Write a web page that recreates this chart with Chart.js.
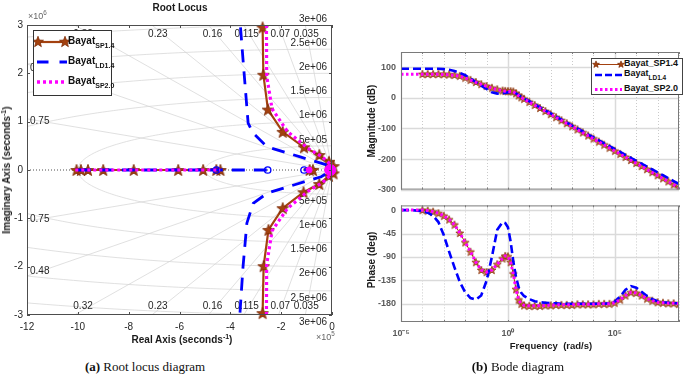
<!DOCTYPE html>
<html><head><meta charset="utf-8">
<script src="https://cdn.jsdelivr.net/npm/chart.js@4.4.1/dist/chart.umd.min.js"></script>
<style>
html,body{margin:0;padding:0;background:#fff;}
body{width:685px;height:376px;position:relative;overflow:hidden;font-family:"Liberation Sans",Arial,Helvetica,sans-serif;}
canvas{position:absolute;}
.t{position:absolute;white-space:nowrap;line-height:1;color:#1a1a1a;}
.c{transform:translate(-50%,-50%);}
.rot{transform:translate(-50%,-50%) rotate(-90deg);}
.b{font-weight:bold;}
sup{font-size:70%;vertical-align:super;line-height:0;}
sub{font-size:72%;vertical-align:sub;line-height:0;}
.leg{position:absolute;background:#fff;box-sizing:border-box;}
.cap{font-family:"Liberation Serif","DejaVu Serif",serif;font-size:13px;color:#111;}
</style></head><body>
<canvas id="rl" width="345" height="345" style="left:0;top:0;width:345px;height:345px"></canvas>
<canvas id="mag" width="340" height="170" style="left:345px;top:30px;width:340px;height:170px"></canvas>
<canvas id="ph" width="340" height="150" style="left:345px;top:195px;width:340px;height:150px"></canvas>

<div class="t c b" style="left:180px;top:8px;font-size:10px">Root Locus</div>
<div class="t" style="left:28px;top:12px;font-size:9px;color:#666">×10<sup>6</sup></div>
<div class="t rot b" style="left:7px;top:170px;font-size:10px">Imaginary Axis (seconds<sup>-1</sup>)</div>
<div class="t c b" style="left:182px;top:340px;font-size:10px">Real Axis (seconds<sup>-1</sup>)</div>
<div class="t" style="left:316px;top:333px;font-size:9px;color:#666">×10<sup>5</sup></div>
<div class="t rot b" style="left:372px;top:121px;font-size:10px">Magnitude (dB)</div>
<div class="t rot b" style="left:372px;top:260px;font-size:10px">Phase (deg)</div>
<div class="t c b" style="left:551px;top:346px;font-size:9.5px">Frequency&nbsp; (rad/s)</div>
<div class="t c cap" style="left:145px;top:366px"><b>(a)</b> Root locus diagram</div>
<div class="t c cap" style="left:518px;top:366px"><b>(b)</b> Bode diagram</div>

<div id="leg1" class="leg" style="left:33px;top:30px;width:79px;height:66px;border:1.5px solid #333"></div>
<div id="leg2" class="leg" style="left:591px;top:58px;width:92px;height:37px;border:1px solid #444"></div>

<script>
// ---------------- DATA ----------------
// Root locus (real axis in units of 1e5, imaginary axis in units of 1e6)
const rlXTicks = [-12, -10, -8, -6, -4, -2, 0];
const rlYTicks = [-3, -2, -1, 0, 1, 2, 3];
const zetaValues = [0.035, 0.07, 0.115, 0.16, 0.23, 0.32, 0.48, 0.75];
const zetaLabels = ['0.035', '0.07', '0.115', '0.16', '0.23', '0.32', '0.48', '0.75'];
const wnValues = [5e5, 1e6, 1.5e6, 2e6, 2.5e6, 3e6];
const wnLabels = ['5e+05', '1e+06', '1.5e+06', '2e+06', '2.5e+06', '3e+06'];

const sp14UpperRe = [-2.73, -2.70, -2.52, -1.94, -1.10, -0.50, -0.12, 0.06, 0.12];
const sp14UpperIm = [2.95, 1.97, 1.25, 0.79, 0.47, 0.31, 0.17, 0.08, 0];
const sp14LowerRe = [-2.73, -2.69, -2.50, -1.94, -1.12, -0.50, -0.12, 0.06, 0.12];
const sp14LowerIm = [-2.96, -1.99, -1.24, -0.79, -0.46, -0.29, -0.12, -0.07, 0];
const sp14RealRe = [-10.05, -9.88, -9.6, -9.0, -7.8, -6.05, -5.07, -4.55, -4.39];
const sp14NearRe = [-0.88, -0.75];

const ld14UpperRe = [-3.60, -3.50, -3.30, -3.10, -2.55, -1.25, -0.18, 0];
const ld14UpperIm = [2.95, 2.28, 0.97, 0.76, 0.48, 0.27, 0.10, 0];
const ld14LowerRe = [-3.62, -3.50, -3.35, -3.10, -2.55, -1.50, -0.43, 0];
const ld14LowerIm = [-2.95, -2.00, -1.10, -0.69, -0.48, -0.31, -0.14, 0];
const ld14RealRe = [-10.0, -2.53];
const ld14ShortRe = [-1.1, -0.9];
const ld14ZeroRe = [-4.55, -2.53, -1.1];

const sp20UpperRe = [-2.58, -2.57, -2.36, -1.76, -0.95, -0.38, -0.05, 0];
const sp20UpperIm = [3.0, 1.95, 1.27, 0.80, 0.45, 0.27, 0.11, 0];
const sp20LowerRe = [-2.58, -2.57, -2.36, -1.76, -0.95, -0.38, -0.05, 0];
const sp20LowerIm = [-3.0, -1.96, -1.26, -0.80, -0.44, -0.26, -0.10, 0];
const sp20RealRe = [-10.1, -4.4];
const sp20DotRe = [-0.9];
const sp20BigDotRe = [-0.07];

// Bode (log10 of frequency in rad/s)
const logW = [-5,-4.75,-4.5,-4.25,-4,-3.75,-3.5,-3.25,-3,-2.75,-2.5,-2.25,-2,-1.75,-1.5,-1.25,-1,-0.75,-0.5,-0.25,
  -0.125,0,0.125,0.25,0.375,0.5,0.625,0.75,
  1,1.25,1.5,1.75,2,2.25,2.5,2.75,3,3.25,3.5,3.75,4,4.25,4.5,4.75,5,5.25,5.5,5.75,6,6.25,6.5,6.75,7,7.25,7.5,7.75,8];
const bodeDecades = [-5,-4,-3,-2,-1,0,1,2,3,4,5,6,7,8];
const bodeMajorDecades = [-5, 0, 5];
const bodeTickLabels = ['10⁻⁵', '10⁰', '10⁵'];
const magTicks = [100, 0, -100, -200, -300];
const phaseTicks = [0, -45, -90, -135, -180];

const magSP14 = [null,null,null,null,78,78,78,78,77.5,76.5,75,72,66,59,52,45,39,33,28,24,
  23,22,22,21,15,8,2,-3,
  -13,-23,-33,-43,-53,-63,-73,-83,-93,-103,-113,-123,-133,-143,-153,-163,-173,-183,-193,-203,-213,-223,-233,-243,-253,-263,-273,-283,-292];
const magLD14 = [95,95,95,95,95,95,95,95,94,92,88,82,74,63,52,40,29,18,14,15,
  16,18,20,20,15,9,3,-2,
  -11,-21,-31,-41,-51,-61,-71,-81,-91,-100,-110,-120,-129,-139,-149,-158,-168,-177,-187,-196,-206,-215,-225,-234,-244,-253,-263,-272,-282];
const magSP20 = [77,77,77,77,77,77,77,77,76.5,75.5,74,71,65,58,51,44,38,32,27,23,
  22,21,21,20,14,7,1,-4,
  -14,-24,-34,-44,-54,-64,-74,-84,-94,-104,-114,-124,-134,-144,-154,-164,-174,-184,-194,-204,-214,-224,-234,-244,-254,-264,-274,-284,-293];

const phSP14 = [null,null,null,null,0,-1,-3,-6,-11,-18,-28,-44,-62,-80,-100,-115,-119,-115,-104,-93,
  -88,-89,-100,-122,-152,-172,-180,-183,
  -184,-184,-184,-183,-183,-182,-182,-182,-182,-181,-181,-181,-181,-180,-180,-180,-178,-172,-164,-158,-159,-164,-170,-174,-177,-178,-179,-179,-180];
const phLD14 = [0,0,0,-1,-2,-5,-11,-23,-48,-80,-110,-138,-158,-169,-172,-164,-136,-90,-38,-23,
  -25,-33,-60,-98,-128,-148,-159,-165,
  -171,-175,-177,-178,-179,-179,-180,-180,-180,-180,-180,-180,-180,-180,-180,-179,-176,-166,-153,-146,-149,-157,-165,-171,-175,-177,-178,-179,-179];
const phSP20 = [0,0,0,0,0,-1,-3,-6,-11,-18,-28,-44,-62,-80,-100,-115,-119,-115,-104,-93,
  -88,-89,-100,-122,-152,-172,-180,-183,
  -184,-184,-184,-183,-183,-182,-182,-182,-182,-181,-181,-181,-181,-180,-180,-180,-178,-172,-164,-158,-159,-164,-170,-174,-177,-178,-179,-179,-180];

// ---------------- STYLE ----------------
const F = '"Liberation Sans", Arial, Helvetica, sans-serif';
const BROWN = '#a3410f', BROWN_DARK = '#7a2a05', BLUE = '#0000ff', MAGENTA = '#ff00ff';

function starCanvas(size, fill, stroke, lw) {
  const c = document.createElement('canvas'); c.width = c.height = size;
  const g = c.getContext('2d'); const cx = size / 2, cy = size / 2 + size * 0.04, R = size / 2 - lw, r = R * 0.42;
  g.beginPath();
  for (let i = 0; i < 10; i++) { const a = -Math.PI / 2 + i * Math.PI / 5; const rr = i % 2 ? r : R; g.lineTo(cx + rr * Math.cos(a), cy + rr * Math.sin(a)); }
  g.closePath(); g.fillStyle = fill; g.fill(); g.lineWidth = lw; g.strokeStyle = stroke; g.stroke();
  return c;
}
const bigStar = starCanvas(14, BROWN, BROWN_DARK, 0.8);
const smallStar = starCanvas(10, '#c9743f', '#8a3510', 0.8);

function pts(xs, ys) { return xs.map((x, i) => ({ x: x, y: ys[i] })); }
function axisPts(xs) { return xs.map(x => ({ x: x, y: 0 })); }

// ---------------- ROOT LOCUS ----------------
const rlPlugin = {
  id: 'rlgrid',
  beforeDatasetsDraw(chart) {
    const { ctx, chartArea: a, scales: { x, y } } = chart;
    ctx.save();
    ctx.beginPath(); ctx.rect(a.left, a.top, a.right - a.left, a.bottom - a.top); ctx.clip();
    ctx.strokeStyle = '#d2d2d2'; ctx.lineWidth = 0.7;
    const x0 = x.getPixelForValue(0), y0 = y.getPixelForValue(0);
    zetaValues.forEach(z => {
      const far = 1e7, xr = -z * far / 1e5, yi = Math.sqrt(1 - z * z) * far / 1e6;
      [1, -1].forEach(s => { ctx.beginPath(); ctx.moveTo(x0, y0); ctx.lineTo(x.getPixelForValue(xr), y.getPixelForValue(s * yi)); ctx.stroke(); });
    });
    wnValues.forEach(w => {
      ctx.beginPath();
      for (let k = 0; k <= 180; k++) {
        const p = k * Math.PI / 180, px = x.getPixelForValue(-w * Math.sin(p) / 1e5), py = y.getPixelForValue(w * Math.cos(p) / 1e6);
        if (k) ctx.lineTo(px, py); else ctx.moveTo(px, py);
      }
      ctx.stroke();
    });
    ctx.setLineDash([1, 2]); ctx.strokeStyle = '#222'; ctx.lineWidth = 0.8;
    ctx.beginPath(); ctx.moveTo(a.left, y0); ctx.lineTo(a.right, y0); ctx.stroke();
    ctx.restore();
    // labels
    ctx.save();
    ctx.font = '10px ' + F; ctx.fillStyle = '#262626'; ctx.textBaseline = 'middle';
    ctx.textAlign = 'center';
    zetaValues.forEach((z, i) => {
      const k = Math.sqrt(1 - z * z) / z;
      if (z <= 0.33) {
        const xr = -29 * z / Math.sqrt(1 - z * z);
        ctx.fillText(zetaLabels[i], x.getPixelForValue(xr), y.getPixelForValue(2.81));
        ctx.fillText(zetaLabels[i], x.getPixelForValue(xr), y.getPixelForValue(-2.82));
      } else {
        const yi = 1.15 * k;
        ctx.fillText(zetaLabels[i], x.getPixelForValue(-11.5), y.getPixelForValue(yi));
        ctx.fillText(zetaLabels[i], x.getPixelForValue(-11.5), y.getPixelForValue(-yi));
      }
    });
    ctx.textAlign = 'right';
    const xr = x.getPixelForValue(0) - 5;
    wnValues.forEach((w, i) => {
      ctx.fillText(wnLabels[i], xr, y.getPixelForValue(w / 1e6) - 6);
      ctx.fillText(wnLabels[i], xr, y.getPixelForValue(-w / 1e6) + 7);
    });
    ctx.restore();
  },
  afterDatasetsDraw(chart) {
    const { ctx, chartArea: a, scales: { x, y } } = chart;
    ctx.save();
    ctx.strokeStyle = '#4d4d4d'; ctx.lineWidth = 1;
    ctx.strokeRect(a.left + 0.5, a.top + 0.5, a.right - a.left - 1, a.bottom - a.top - 1);
    ctx.beginPath();
    rlXTicks.forEach(v => { const p = Math.round(x.getPixelForValue(v)) + 0.5; ctx.moveTo(p, a.bottom); ctx.lineTo(p, a.bottom - 3); ctx.moveTo(p, a.top); ctx.lineTo(p, a.top + 3); });
    rlYTicks.forEach(v => { const p = Math.round(y.getPixelForValue(v)) + 0.5; ctx.moveTo(a.left, p); ctx.lineTo(a.left + 3, p); ctx.moveTo(a.right, p); ctx.lineTo(a.right - 3, p); });
    ctx.stroke();
    ctx.restore();
  }
};

const lineBase = { showLine: true, fill: false, tension: 0, pointRadius: 0 };
const brownLine = Object.assign({}, lineBase, { borderColor: BROWN, borderWidth: 2.2, pointStyle: bigStar, pointRadius: 6, clip: 8 });
const blueLine = Object.assign({}, lineBase, { borderColor: BLUE, borderWidth: 2.8, borderDash: [13, 9], clip: 8 });
const magLine = Object.assign({}, lineBase, { borderColor: MAGENTA, borderWidth: 3.2, borderDash: [3, 3], clip: 8 });

new Chart(document.getElementById('rl'), {
  type: 'scatter',
  data: {
    datasets: [
      Object.assign({}, magLine, { data: pts(sp20UpperRe, sp20UpperIm) }),
      Object.assign({}, magLine, { data: pts(sp20LowerRe, sp20LowerIm) }),
      Object.assign({}, magLine, { data: axisPts(sp20RealRe) }),
      { data: axisPts(sp20DotRe), showLine: false, pointStyle: 'circle', pointRadius: 3, backgroundColor: MAGENTA, borderColor: MAGENTA, borderWidth: 1 },
      { data: axisPts(sp20BigDotRe), showLine: false, pointStyle: 'circle', pointRadius: 5.5, backgroundColor: MAGENTA, borderColor: MAGENTA, borderWidth: 1, clip: 8 },
      { data: axisPts(ld14ZeroRe), showLine: false, pointStyle: 'circle', pointRadius: 3.2, backgroundColor: 'rgba(255,255,255,0)', borderColor: BLUE, borderWidth: 1.3 },
      Object.assign({}, blueLine, { data: pts(ld14UpperRe, ld14UpperIm) }),
      Object.assign({}, blueLine, { data: pts(ld14LowerRe, ld14LowerIm) }),
      Object.assign({}, blueLine, { data: axisPts(ld14RealRe) }),
      Object.assign({}, blueLine, { data: axisPts(ld14ShortRe), borderDash: [] }),
      Object.assign({}, brownLine, { data: pts(sp14UpperRe, sp14UpperIm) }),
      Object.assign({}, brownLine, { data: pts(sp14LowerRe, sp14LowerIm) }),
      Object.assign({}, brownLine, { data: axisPts(sp14RealRe) }),
      Object.assign({}, brownLine, { data: axisPts(sp14NearRe) })
    ]
  },
  options: {
    responsive: false, animation: false, events: [],
    layout: { padding: { left: 0, top: 25, right: 13, bottom: 0 } },
    plugins: { legend: { display: false }, tooltip: { enabled: false } },
    scales: {
      x: {
        type: 'linear', min: -12, max: 0,
        afterBuildTicks: s => { s.ticks = rlXTicks.map(v => ({ value: v })); },
        afterFit: s => { s.height = 30; },
        grid: { display: false, drawTicks: false }, border: { display: false },
        ticks: { padding: 6, font: { size: 10, family: F }, color: '#262626', autoSkip: false, maxRotation: 0 }
      },
      y: {
        type: 'linear', min: -3, max: 3,
        afterBuildTicks: s => { s.ticks = rlYTicks.map(v => ({ value: v })); },
        afterFit: s => { s.width = 27; },
        grid: { display: false, drawTicks: false }, border: { display: false },
        ticks: { padding: 4, font: { size: 10, family: F }, color: '#262626', autoSkip: false }
      }
    }
  },
  plugins: [rlPlugin]
});

// ---------------- BODE ----------------
function bodeData(vals) { return logW.map((lw, i) => vals[i] === null ? null : { x: Math.pow(10, lw), y: vals[i] }).filter(Boolean); }

function bodePlugin(yTicks) {
  return {
    id: 'bodegrid',
    beforeDatasetsDraw(chart) {
      const { ctx, chartArea: a, scales: { x, y } } = chart;
      ctx.save();
      bodeDecades.forEach(e => {
        const p = Math.round(x.getPixelForValue(Math.pow(10, e))) + 0.5;
        if (bodeMajorDecades.includes(e)) { ctx.setLineDash([]); ctx.strokeStyle = '#dadada'; ctx.lineWidth = 1.5; }
        else { ctx.setLineDash([1, 2]); ctx.strokeStyle = '#bdbdbd'; ctx.lineWidth = 0.8; }
        ctx.beginPath(); ctx.moveTo(p, a.top); ctx.lineTo(p, a.bottom); ctx.stroke();
      });
      ctx.setLineDash([]); ctx.strokeStyle = '#dadada'; ctx.lineWidth = 1.5;
      yTicks.forEach(v => { const p = Math.round(y.getPixelForValue(v)) + 0.5; ctx.beginPath(); ctx.moveTo(a.left, p); ctx.lineTo(a.right, p); ctx.stroke(); });
      ctx.restore();
    },
    afterDatasetsDraw(chart) {
      const { ctx, chartArea: a, scales: { x } } = chart;
      ctx.save();
      ctx.strokeStyle = '#7a7a7a'; ctx.lineWidth = 1;
      ctx.strokeRect(a.left + 0.5, a.top + 0.5, a.right - a.left - 1, a.bottom - a.top - 1);
      ctx.beginPath();
      bodeDecades.forEach(e => { const p = Math.round(x.getPixelForValue(Math.pow(10, e))) + 0.5; ctx.moveTo(p, a.bottom); ctx.lineTo(p, a.bottom - 2); ctx.moveTo(p, a.top); ctx.lineTo(p, a.top + 2); });
      ctx.stroke();
      ctx.restore();
    }
  };
}

function bodeChart(id, sp14, ld14, sp20, yMin, yMax, yTicks, padTop, xHeight, showX) {
  return new Chart(document.getElementById(id), {
    type: 'line',
    data: {
      datasets: [
        { data: bodeData(sp20), borderColor: MAGENTA, borderWidth: 3, borderDash: [2.5, 2.5], pointRadius: 0, tension: 0, fill: false },
        { data: bodeData(ld14), borderColor: BLUE, borderWidth: 2.6, borderDash: [8, 4], pointRadius: 0, tension: 0, fill: false },
        { data: bodeData(sp14), borderColor: BROWN, borderWidth: 1, pointStyle: smallStar, pointRadius: 5, tension: 0, fill: false }
      ]
    },
    options: {
      responsive: false, animation: false, events: [],
      layout: { padding: { left: 0, top: padTop, right: 1, bottom: 0 } },
      plugins: { legend: { display: false }, tooltip: { enabled: false } },
      scales: {
        x: {
          type: 'logarithmic', min: 1e-5, max: 1e8,
          afterBuildTicks: s => { s.ticks = bodeDecades.map(e => ({ value: Math.pow(10, e) })); },
          afterFit: s => { s.height = xHeight; },
          grid: { display: false, drawTicks: false }, border: { display: false },
          ticks: {
            display: showX, padding: 6, autoSkip: false, maxRotation: 0,
            font: { size: 9, family: F, weight: 'bold' }, color: '#5a5a5a',
            callback: v => { const e = Math.round(Math.log10(v)); const k = bodeMajorDecades.indexOf(e); return k >= 0 ? bodeTickLabels[k] : ''; }
          }
        },
        y: {
          type: 'linear', min: yMin, max: yMax,
          afterBuildTicks: s => { s.ticks = yTicks.map(v => ({ value: v })); },
          afterFit: s => { s.width = 56; },
          grid: { display: false, drawTicks: false }, border: { display: false },
          ticks: { padding: 5, autoSkip: false, font: { size: 9, family: F, weight: 'bold' }, color: '#5a5a5a' }
        }
      }
    },
    plugins: [bodePlugin(yTicks)]
  });
}
bodeChart('mag', magSP14, magLD14, magSP20, -300, 150, magTicks, 22, 9, false);
bodeChart('ph', phSP14, phLD14, phSP20, -215, 9, phaseTicks, 4, 23, true);

// ---------------- LEGENDS ----------------
function starPoly(cx, cy, R) {
  const r = R * 0.42, p = [];
  for (let i = 0; i < 10; i++) { const a = -Math.PI / 2 + i * Math.PI / 5, rr = i % 2 ? r : R; p.push((cx + rr * Math.cos(a)).toFixed(2) + ',' + (cy + rr * Math.sin(a)).toFixed(2)); }
  return p.join(' ');
}
function legend(el, w, h, rows, starR, lw, font, subFont) {
  let svg = '<svg width="' + w + '" height="' + h + '" style="position:absolute;left:0;top:0">';
  rows.forEach(r => {
    if (r.kind === 'star') {
      svg += '<line x1="' + r.x1 + '" y1="' + r.y + '" x2="' + r.x2 + '" y2="' + r.y + '" stroke="' + BROWN + '" stroke-width="' + lw.star + '"/>';
      svg += '<polygon points="' + starPoly(r.x1 + 1, r.y, starR) + '" fill="' + BROWN + '" stroke="' + BROWN_DARK + '" stroke-width="0.7"/>';
      svg += '<polygon points="' + starPoly(r.x2 - 1, r.y, starR) + '" fill="' + BROWN + '" stroke="' + BROWN_DARK + '" stroke-width="0.7"/>';
    } else if (r.kind === 'dash') {
      svg += '<line x1="' + r.x1 + '" y1="' + r.y + '" x2="' + r.x2 + '" y2="' + r.y + '" stroke="' + BLUE + '" stroke-width="' + lw.dash + '" stroke-dasharray="' + r.pattern + '"/>';
    } else {
      svg += '<line x1="' + r.x1 + '" y1="' + r.y + '" x2="' + r.x2 + '" y2="' + r.y + '" stroke="' + MAGENTA + '" stroke-width="' + lw.dot + '" stroke-dasharray="' + r.pattern + '"/>';
    }
  });
  svg += '</svg>';
  let html = svg;
  rows.forEach(r => {
    html += '<div class="t b" style="left:' + r.tx + 'px;top:' + (r.y - font * 0.62) + 'px;font-size:' + font + 'px;color:#111">' + r.label +
      (r.sub ? '<span style="font-size:' + subFont + 'px;position:relative;top:' + (font * 0.45) + 'px">' + r.sub + '</span>' : '') + '</div>';
  });
  el.innerHTML = html;
}
const legendNames = ['Bayat', 'Bayat', 'Bayat'];
const legendSubs = ['SP1.4', 'LD1.4', 'SP2.0'];
legend(document.getElementById('leg1'), 76, 63, [
  { kind: 'star', x1: 3, x2: 32, y: 11, tx: 34, label: legendNames[0], sub: legendSubs[0] },
  { kind: 'dash', x1: 3, x2: 33, y: 31, pattern: '11.5,11', tx: 34, label: legendNames[1], sub: legendSubs[1] },
  { kind: 'dot', x1: 3, x2: 33, y: 51, pattern: '3,3', tx: 34, label: legendNames[2], sub: legendSubs[2] }
], 5.8, { star: 2.2, dash: 3, dot: 3.4 }, 10, 7);
legend(document.getElementById('leg2'), 90, 35, [
  { kind: 'star', x1: 3, x2: 30, y: 5.5, tx: 32, label: 'Bayat_SP1.4' },
  { kind: 'dash', x1: 3, x2: 30, y: 16, pattern: '7,3', tx: 32, label: legendNames[1], sub: legendSubs[1] },
  { kind: 'dot', x1: 3, x2: 30, y: 30.5, pattern: '2.5,2.5', tx: 32, label: 'Bayat_SP2.0' }
], 3.6, { star: 1, dash: 2.6, dot: 3 }, 9, 6.5);
</script>
